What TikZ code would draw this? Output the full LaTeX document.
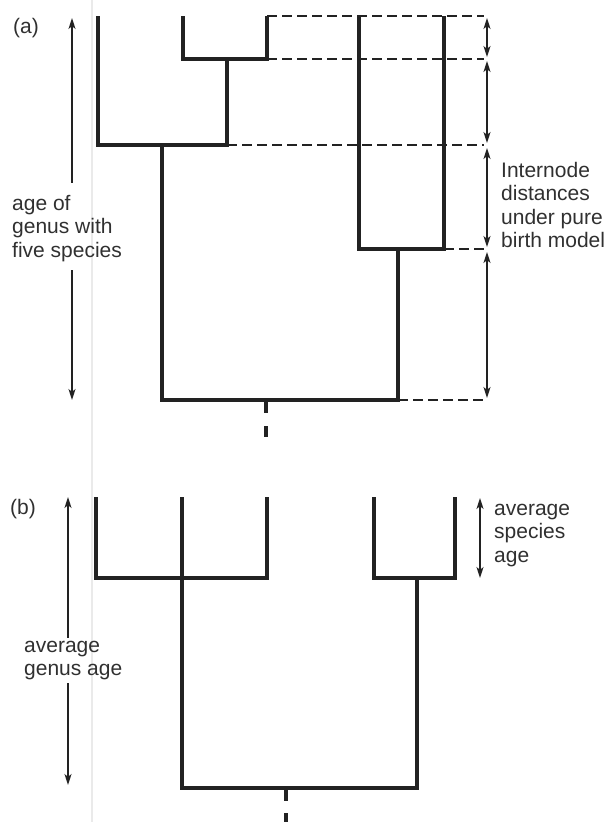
\documentclass[tikz,border=0pt]{standalone}
\usepackage{fontspec}
\setmainfont{Liberation Sans}
\usetikzlibrary{arrows.meta}
\definecolor{ink}{HTML}{222222}
\definecolor{txt}{HTML}{303030}
\definecolor{edge}{HTML}{EAEAEA}
\tikzset{
  branch/.style={draw=ink, line width=3.3pt, line join=miter},
  guide/.style={draw=ink, line width=1.4pt, dash pattern=on 10pt off 5pt},
  dim/.style={draw=ink, line width=1.7pt, {Stealth[length=11pt,width=7pt,inset=3pt]}-{Stealth[length=11pt,width=7pt,inset=3pt]}},
  upar/.style={draw=ink, line width=1.7pt, {Stealth[length=11pt,width=7pt,inset=3pt]}-},
  downar/.style={draw=ink, line width=1.7pt, -{Stealth[length=11pt,width=7pt,inset=3pt]}},
  lab/.style={anchor=base west, inner sep=0pt, text=txt, font=\fontsize{21}{23.5}\selectfont},
}
\newcommand{\lines}[1]{\begin{tabular}[t]{@{}l@{}}#1\end{tabular}}
\begin{document}
\begin{tikzpicture}[x=1pt,y=-1pt]
\useasboundingbox (0,0) rectangle (609,822);
% faint page edge
\coordinate (g1) at (92,0); \coordinate (g2) at (92,822);
\draw[draw=edge, line width=1.8pt] (g1) -- (g2);

% ---------------- panel (a) ----------------
\node[lab] (la) at (13,33) {(a)};
% leaves
\coordinate (l1) at (98,16);
\coordinate (l2) at (183,16);
\coordinate (l3) at (267,16);
\coordinate (l4) at (359,16);
\coordinate (l5) at (444,16);
% internal nodes
\coordinate (n1) at (227,59);
\coordinate (n2) at (162,145);
\coordinate (n3) at (398,249);
\coordinate (r1) at (266,400);
% dashed guides
\coordinate (e1) at (484,16);
\coordinate (e2) at (484,59);
\coordinate (e3) at (484,145);
\coordinate (e4) at (484,249);
\coordinate (e5) at (484,400);
\coordinate (s3) at (267,59);
\coordinate (s4) at (444,249);
\coordinate (s5) at (398,400);
\draw[guide] (l3) -- (e1);
\draw[guide] (s3) -- (e2);
\draw[guide] (n1 |- n2) -- (e3);
\draw[guide] (s4) -- (e4);
\draw[guide] (s5) -- (e5);
% tree
\draw[branch] (l2) |- (n1) -| (l3);
\draw[branch] (l1) |- (n2) -| (n1);
\draw[branch] (l4) |- (n3) -| (l5);
\draw[branch] (n2) |- (r1) -| (n3);
\coordinate (r1a) at (266,413);
\coordinate (r1b) at (266,426);
\coordinate (r1c) at (266,437);
\draw[branch] (r1) -- (r1a);
\draw[branch] (r1b) -- (r1c);
% internode arrows
\coordinate (a1) at (487,18);
\coordinate (a2) at (487,57);
\coordinate (a3) at (487,61);
\coordinate (a4) at (487,143);
\coordinate (a5) at (487,148);
\coordinate (a6) at (487,247);
\coordinate (a7) at (487,252);
\coordinate (a8) at (487,398);
\draw[dim] (a1) -- (a2);
\draw[dim] (a3) -- (a4);
\draw[dim] (a5) -- (a6);
\draw[dim] (a7) -- (a8);
\node[lab] (tint) at (501,177) {\lines{Internode\\distances\\under pure\\birth model}};
% age of genus arrow
\node[lab] (tage) at (12,210) {\lines{age of\\genus with\\five species}};
\coordinate (ga1) at (72,18);
\coordinate (ga2) at (72,183);
\coordinate (ga3) at (72,270);
\coordinate (ga4) at (72,400);
\draw[upar] (ga1) -- (ga2);
\draw[downar] (ga3) -- (ga4);

% ---------------- panel (b) ----------------
\node[lab] (lb) at (10,514) {(b)};
\coordinate (m1) at (96,497);
\coordinate (m2) at (182,497);
\coordinate (m3) at (267,497);
\coordinate (m4) at (374,497);
\coordinate (m5) at (455,497);
\coordinate (p1) at (182,578);
\coordinate (p2) at (417,578);
\coordinate (rb) at (286,788);
\draw[branch] (m1) |- (p1) -| (m3);
\draw[branch] (m2) -- (p1) |- (rb) -| (p2);
\draw[branch] (m4) |- (p2) -| (m5);
\coordinate (rba) at (286,801);
\coordinate (rbb) at (286,813);
\coordinate (rbc) at (286,822);
\draw[branch] (rb) -- (rba);
\draw[branch] (rbb) -- (rbc);
% average genus age
\node[lab] (tgen) at (24,652) {\lines{average\\genus age}};
\coordinate (gb1) at (68,497);
\coordinate (gb2) at (68,638);
\coordinate (gb3) at (68,683);
\coordinate (gb4) at (68,785);
\draw[upar] (gb1) -- (gb2);
\draw[downar] (gb3) -- (gb4);
% average species age
\node[lab] (tsp) at (494,515) {\lines{average\\species\\age}};
\coordinate (sb1) at (480,498);
\coordinate (sb2) at (480,578);
\draw[dim] (sb1) -- (sb2);
\end{tikzpicture}
\end{document}
